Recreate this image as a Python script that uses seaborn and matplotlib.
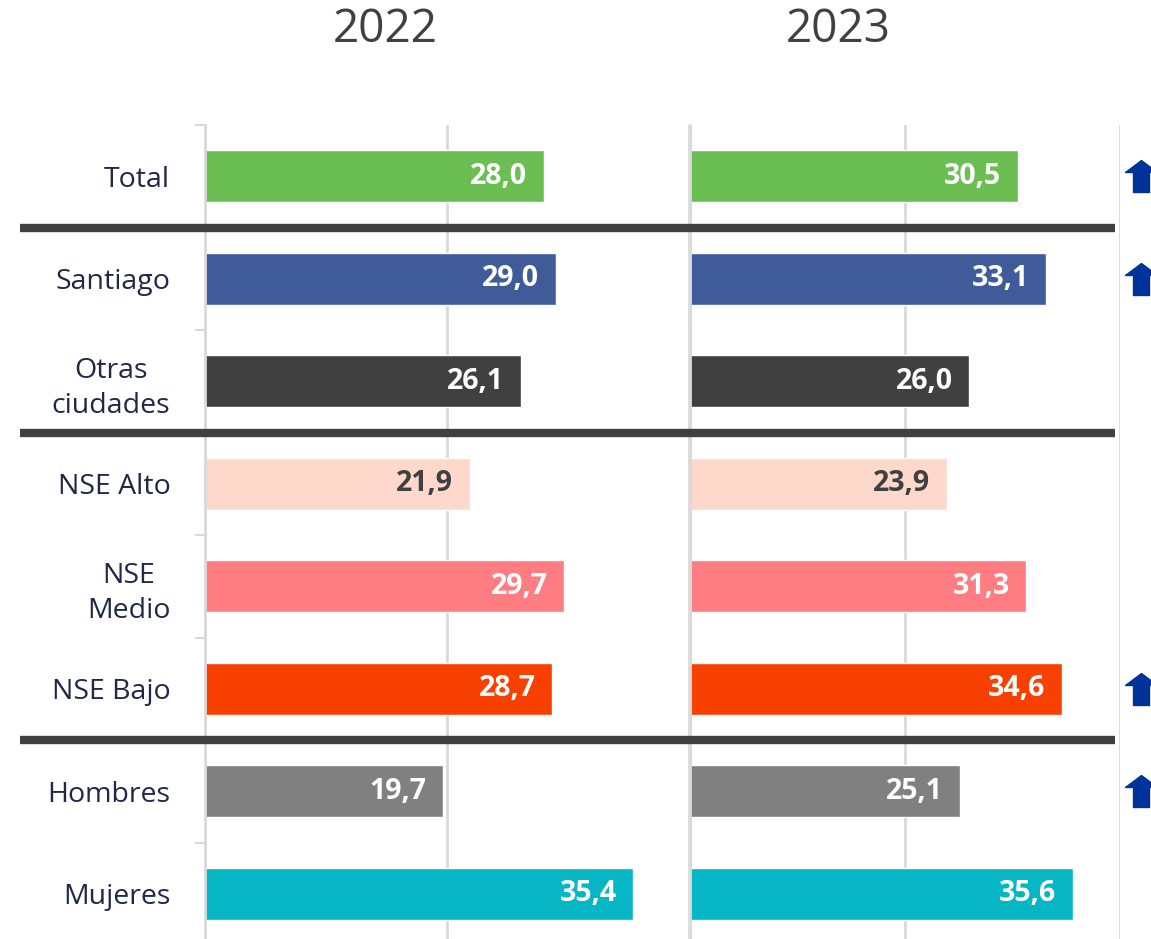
import numpy as np
import pandas as pd
import matplotlib
matplotlib.use("Agg")
import matplotlib.pyplot as plt
import matplotlib.transforms as mtransforms
from matplotlib.lines import Line2D
import seaborn as sns

# Datos
categorias = ["Total", "Santiago", "Otras\nciudades", "NSE Alto", "NSE\nMedio",
              "NSE Bajo", "Hombres", "Mujeres"]
valores_2022 = [28.0, 29.0, 26.1, 21.9, 29.7, 28.7, 19.7, 35.4]
valores_2023 = [30.5, 33.1, 26.0, 23.9, 31.3, 34.6, 25.1, 35.6]
sube_2023 = [True, True, False, False, False, True, True, False]
colores = ["#6bbf52", "#3f5b9a", "#404040", "#ffd8cc", "#ff7c80",
           "#f84000", "#808080", "#06b6c5"]
color_etiqueta = ["white", "white", "white", "#404040", "white",
                  "white", "white", "white"]
separadores = [0.5, 2.5, 5.5]
anios = ["2022", "2023"]

sns.set_theme(style="white")
plt.rcParams["font.family"] = ["Open Sans", "DejaVu Sans"]

W, H = 1151, 939
fig = plt.figure(figsize=(W / 100, H / 100), dpi=100)

top = 125 / H
alto = 820 / H
ax1 = fig.add_axes([205 / W, 1 - top - alto, 484 / W, alto])
ax2 = fig.add_axes([690 / W, 1 - top - alto, 430 / W, alto])

paleta = dict(zip(categorias, colores))
gris_grid = "#d9d9d9"

for ax, valores in [(ax1, valores_2022), (ax2, valores_2023)]:
    df = pd.DataFrame({"cat": categorias, "valor": valores})
    sns.barplot(data=df, y="cat", x="valor", hue="cat", palette=paleta,
                order=categorias, hue_order=categorias, orient="h",
                width=0.51, saturation=1, legend=False, ax=ax)
    ax.set_xlim(0, 40)
    ax.set_ylim(len(categorias) - 0.5, -0.5)
    ax.set_xticks([0, 20, 40])
    ax.xaxis.grid(True, color=gris_grid, linewidth=2)
    ax.set_axisbelow(True)
    ax.tick_params(axis="x", length=0, labelbottom=False)
    ax.set_xlabel("")
    ax.set_ylabel("")
    for s in ["top", "right", "bottom"]:
        ax.spines[s].set_visible(False)
    ax.spines["left"].set_color(gris_grid)
    ax.spines["left"].set_linewidth(2)

    # etiquetas de valor dentro de la barra
    for bar in ax.patches:
        i = int(round(bar.get_y() + bar.get_height() / 2))
        ax.annotate(f"{valores[i]:.1f}".replace(".", ","),
                    (bar.get_width(), i), xytext=(-12, 0),
                    textcoords="offset points", ha="right", va="center",
                    fontsize=20.5, fontweight="bold", color=color_etiqueta[i])

# eje de categorías
ax1.set_yticks(range(len(categorias)))
ax1.set_yticklabels(categorias, fontsize=20.5, color="#1f2847",
                    multialignment="center", linespacing=1.35)
ax1.tick_params(axis="y", which="major", length=0, pad=25)
ax1.set_yticks(np.arange(-0.5, len(categorias), 1), minor=True)
ax1.tick_params(axis="y", which="minor", length=7, width=1.5, color=gris_grid,
                left=True)
ax2.set_yticks([])

# títulos de año
fig.text(385 / W, 1 - 30 / H, anios[0], ha="center", va="center",
         fontsize=33, color="#404040")
fig.text(838 / W, 1 - 30 / H, anios[1], ha="center", va="center",
         fontsize=33, color="#404040")

# líneas separadoras
trans = mtransforms.blended_transform_factory(fig.transFigure, ax1.transData)
for y in separadores:
    fig.add_artist(Line2D([20 / W, 1115 / W], [y, y], transform=trans,
                          color="#404040", linewidth=6, solid_capstyle="butt"))

# flechas de aumento
flecha = [(-1, 0.25), (0, 1), (1, 0.25), (0.5, 0.25), (0.5, -1),
          (-0.5, -1), (-0.5, 0.25), (-1, 0.25)]
filas = [i for i, s in enumerate(sube_2023) if s]
ax2.scatter([41.95] * len(filas), filas, marker=flecha, s=530,
            color="#003399", clip_on=False, zorder=5)

fig.savefig("out.png", dpi=100)
